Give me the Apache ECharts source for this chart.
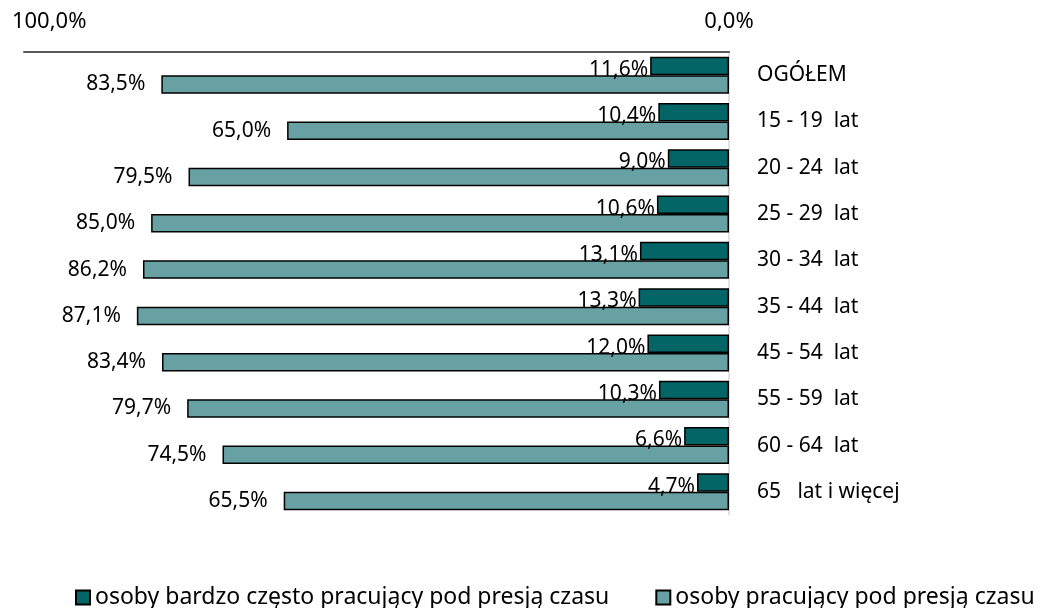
<!DOCTYPE html>
<html>
<head>
<meta charset="utf-8">
<script src="https://cdn.jsdelivr.net/npm/echarts@6/dist/echarts.min.js"></script>
<style>
  html, body { margin: 0; padding: 0; background: #fff; }
  #chart { width: 1051px; height: 608px; }
</style>
</head>
<body>
<div id="chart"></div>
<script>
// kategorie wiekowe (od góry)
var categories = ['OGÓŁEM', '15 - 19  lat', '20 - 24  lat', '25 - 29  lat', '30 - 34  lat',
	'35 - 44  lat', '45 - 54  lat', '55 - 59  lat', '60 - 64  lat', '65   lat i więcej'];
var seriesNames = ['osoby bardzo często pracujący pod presją czasu', 'osoby pracujący pod presją czasu'];
var veryOften = [11.6, 10.4, 9.0, 10.6, 13.1, 13.3, 12.0, 10.3, 6.6, 4.7];
var underPressure = [83.5, 65.0, 79.5, 85.0, 86.2, 87.1, 83.4, 79.7, 74.5, 65.5];

var FONT = '"Noto Sans", sans-serif';

function pct(v) {
	return v.toFixed(1).replace('.', ',') + '%';
}

var chart = echarts.init(document.getElementById('chart'));

chart.setOption({
	animation: false,
	textStyle: { fontFamily: FONT },
	grid: {
		top: 52,
		bottom: 93,
		left: 24,
		right: 322,
		containLabel: false
	},
	xAxis: {
		type: 'value',
		position: 'top',
		inverse: true,
		min: 0,
		max: 103.7,
		interval: 100,
		axisLine: { show: true, lineStyle: { color: '#595959', width: 2 } },
		axisTick: { show: false },
		splitLine: { show: false },
		axisLabel: {
			showMaxLabel: false,
			margin: 19,
			color: '#000',
			fontSize: 22,
			fontFamily: FONT,
			formatter: function(v) { return pct(v); }
		}
	},
	yAxis: {
		type: 'category',
		position: 'right',
		inverse: true,
		data: categories,
		axisLine: { show: true, lineStyle: { color: '#d9d9d9', width: 1.5 } },
		axisTick: { show: false },
		axisLabel: {
			margin: 28,
			align: 'left',
			color: '#000',
			fontSize: 21,
			fontFamily: FONT,
			padding: [8, 0, 0, 0]
		}
	},
	legend: {
		bottom: -6,
		left: 70,
		itemGap: 46,
		itemWidth: 14,
		itemHeight: 14,
		icon: 'rect',
		textStyle: { color: '#000', fontSize: 23, fontFamily: FONT, padding: [0, 0, 0, 0] },
		data: seriesNames
	},
	series: [
		{
			name: seriesNames[0],
			type: 'bar',
			data: veryOften,
			barGap: '0%',
			barCategoryGap: '20%',
			itemStyle: { color: '#036566', borderColor: '#000', borderWidth: 1.5 },
			label: {
				show: true,
				position: 'left',
				distance: 2,
				offset: [0, 4],
				color: '#000',
				fontSize: 21,
				fontFamily: FONT,
				formatter: function(p) { return pct(p.value); }
			}
		},
		{
			name: seriesNames[1],
			type: 'bar',
			data: underPressure,
			itemStyle: { color: '#67a1a4', borderColor: '#000', borderWidth: 1.5 },
			label: {
				show: true,
				position: 'left',
				distance: 16,
				color: '#000',
				fontSize: 21,
				fontFamily: FONT,
				formatter: function(p) { return pct(p.value); }
			}
		}
	]
});
</script>
</body>
</html>
